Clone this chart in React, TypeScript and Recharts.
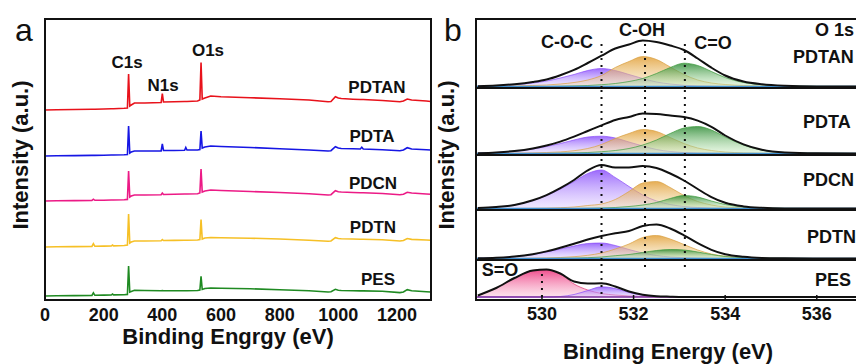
import React from 'react';
import { ComposedChart, Line, Area, XAxis, YAxis, ReferenceLine } from 'recharts';

const FONT = 'Arial, "Liberation Sans", Helvetica, sans-serif';
const INK = '#111';

// (a) survey spectra; a.u. above each trace's own baseline
const surveyEnergy = [0, 40, 100, 160, 165, 170, 200, 226, 230, 234, 270, 281, 285, 289, 294, 305, 340, 396, 400, 404, 440, 476, 480, 484, 520, 528, 532, 536, 545, 565, 600, 700, 800, 900, 965, 975, 990, 1000, 1010, 1050, 1075, 1080, 1085, 1150, 1210, 1222, 1235, 1250, 1300, 1315];
const pdtanSurvey = [0, 0.2, 0.5, 0.8, 0.8, 0.8, 1, 1.2, 1.2, 1.2, 1.7, 2, 36, 4, 5, 7, 7, 7.5, 16.5, 8, 8.2, 8.5, 8.5, 8.5, 9, 10, 47.5, 11, 12, 14, 13.3, 12.3, 11.3, 10, 8.3, 8.5, 13.3, 12, 11.5, 10.8, 10.5, 10.5, 10.5, 9.5, 8.3, 9, 11, 10, 9, 8.5];
const pdtaSurvey = [0, 0.2, 0.4, 0.6, 0.6, 0.6, 0.8, 1, 1, 1, 1.2, 1.5, 30, 3, 4, 5, 5, 5, 12, 5.5, 5.5, 5.8, 8.5, 6, 6, 6.5, 25, 8, 9, 10, 9.5, 8.5, 7.3, 6, 5, 5.3, 9.3, 8, 7.5, 7.2, 7, 8.7, 7, 6.3, 5.3, 6, 8.3, 7, 6.2, 6];
const pdcnSurvey = [0, 0.2, 0.4, 0.6, 1.8, 0.7, 0.8, 1, 1, 1, 1.3, 1.6, 30, 4, 5, 6, 6, 6.3, 8, 6.5, 6.7, 7, 7, 7, 7.3, 8, 32, 9, 10, 11, 10.5, 9.5, 8.5, 7.3, 6, 6.3, 10.3, 9.3, 9, 8.5, 8.2, 8.2, 8.2, 7.5, 6.2, 6.8, 8.7, 8, 7, 6.7];
const pdtnSurvey = [0, 0.2, 0.4, 0.6, 3.3, 0.7, 0.9, 1, 2, 1.1, 1.5, 2, 33, 4, 5, 6, 6, 6.3, 7.5, 6.5, 6.6, 6.8, 6.8, 6.8, 7, 7.5, 27.5, 8, 9, 9.5, 9.3, 8.8, 8, 6.8, 5.7, 6, 9.3, 8.5, 8.2, 8, 7.8, 7.8, 7.8, 7.2, 6, 6.5, 8.5, 7.6, 7, 6.8];
const pesSurvey = [0, 0.2, 0.4, 0.6, 3.2, 0.7, 0.9, 1, 2, 1.1, 1.3, 1.6, 30, 4, 4.6, 5.7, 5.5, 5.2, 5.4, 5.2, 5.2, 5.2, 5.2, 5.2, 5.5, 6, 19.7, 6.5, 7.5, 8, 7.8, 7.2, 6.3, 5.2, 4, 4.3, 6.7, 5.8, 5.5, 5.3, 5.1, 5.1, 5.1, 4.7, 3.4, 4, 6.4, 5.3, 4.3, 4];
const surveyNames = ['PDTAN', 'PDTA', 'PDCN', 'PDTN', 'PES'];
const surveyTicks = [0, 200, 400, 600, 800, 1000, 1200];

// (b) O 1s high resolution fits
const oxEnergy = [528.6, 529.0, 529.4, 529.8, 530.1, 530.4, 530.7, 531.0, 531.3, 531.6, 531.9, 532.2, 532.5, 532.8, 533.1, 533.4, 533.7, 534.0, 534.4, 534.8, 535.3, 536.0, 537.2];
const pdtanCOC = [0.3, 0.8, 1.8, 3.5, 5.5, 8.5, 12, 16, 18, 16, 12, 8, 4.5, 2.5, 1.2, 0.6, 0.3, 0, 0, 0, 0, 0, 0];
const pdtanCOH = [0, 0.2, 0.5, 1, 1.5, 2.5, 4, 6.5, 11, 19, 25, 30, 27, 19.5, 12, 6.5, 3.5, 2, 1, 0.5, 0.2, 0, 0];
const pdtanCO = [0, 0, 0, 0, 0, 0.3, 0.6, 1, 1.8, 3, 5, 8, 13, 19, 23.3, 21, 15, 9, 4, 1.8, 0.6, 0.1, 0];
const pdtanEnv = [0.3, 1, 2.3, 4.5, 7, 11.3, 16.6, 23.5, 30.8, 38, 42, 46, 44.5, 41, 36.5, 28, 18.8, 11, 5, 2.3, 0.8, 0.1, 0];
const pdtaCOC = [0.3, 1, 2.2, 4.5, 7, 10, 13.5, 16.5, 17.3, 15.5, 11.5, 7.5, 4, 2, 1, 0.4, 0.2, 0, 0, 0, 0, 0, 0];
const pdtaCOH = [0, 0.1, 0.3, 0.6, 1, 1.6, 2.8, 5, 9, 15, 20, 24, 22, 16, 10, 5.5, 3, 1.5, 0.6, 0.2, 0, 0, 0];
const pdtaCO = [0, 0, 0, 0, 0, 0.3, 0.6, 1, 1.8, 3, 5, 8.5, 13.5, 20, 25.5, 27, 23.5, 16.5, 8.5, 3.5, 1, 0.2, 0];
const pdtaEnv = [0.3, 1.1, 2.5, 5.1, 8, 11.9, 16.9, 22.5, 28.1, 33.5, 36.5, 40, 39.5, 38, 36.5, 32.9, 26.7, 18, 9.1, 3.7, 1, 0.2, 0];
const pdcnCOC = [0.5, 1.5, 3.5, 8, 13, 19.5, 27, 35, 38.5, 31, 22, 13.5, 7.5, 4, 2, 1, 0.4, 0.2, 0, 0, 0, 0, 0];
const pdcnCOH = [0, 0, 0, 0.2, 0.4, 0.8, 1.5, 3, 4.5, 9, 17, 25.5, 27, 21, 13, 7, 3.5, 1.5, 0.6, 0.2, 0, 0, 0];
const pdcnCO = [0, 0, 0, 0, 0, 0, 0, 0.2, 0.5, 1, 2, 3.5, 6, 10, 13, 11.5, 7.5, 4, 1.5, 0.5, 0.1, 0, 0];
const pdcnEnv = [0.5, 1.5, 3.5, 8.2, 13.4, 20.3, 28.5, 38.2, 43.5, 41, 41, 42.5, 40.5, 35, 28, 19.5, 11.4, 5.7, 2.1, 0.7, 0.1, 0, 0];
const pdtnCOC = [0.2, 0.7, 1.8, 4, 6.5, 9.5, 12.5, 15, 15.5, 13, 9, 5.5, 3, 1.5, 0.7, 0.3, 0.1, 0, 0, 0, 0, 0, 0];
const pdtnCOH = [0, 0, 0.1, 0.3, 0.6, 1, 1.8, 3.2, 5.5, 9.5, 14.5, 21, 23, 19.5, 14, 8.5, 4.5, 2.2, 0.9, 0.3, 0.1, 0, 0];
const pdtnCO = [0, 0, 0, 0, 0, 0.2, 0.4, 0.8, 1.5, 2.8, 4, 6, 8, 9, 8.5, 6.5, 4, 2, 0.8, 0.3, 0.1, 0, 0];
const pdtnEnv = [0.2, 0.7, 1.9, 4.3, 7.1, 10.7, 14.7, 19, 22.5, 25.3, 27.5, 32.5, 34, 30, 23.2, 15.3, 8.6, 4.2, 1.7, 0.6, 0.2, 0, 0];
const pesSO = [1.5, 9, 19, 26.5, 27.5, 23, 13, 7, 3.5, 2, 1, 0.5, 0.2, 0.1, 0, 0, 0, 0, 0, 0, 0, 0, 0];
const pesCOC = [0, 0, 0, 0, 0, 0.5, 2.5, 6.5, 10.2, 8.5, 4.5, 1.8, 0.6, 0.2, 0, 0, 0, 0, 0, 0, 0, 0, 0];
const pesEnv = [1.5, 9, 19, 26.5, 27.5, 23.5, 15.5, 13.5, 13.7, 10.5, 5.5, 2.3, 0.8, 0.3, 0, 0, 0, 0, 0, 0, 0, 0, 0];
const bondPos = [531.3, 532.25, 533.12]; // C-O-C, C-OH, C=O
const soPos = 530.0;
const oxTicks = [530, 532, 534, 536];

const surveyColors = ['#e8121b', '#1616e4', '#ec1a86', '#f6c026', '#1f8a22'];
const surveyBase = [110, 156, 201, 247, 296]; // px row of each trace baseline
const A = { left: 45, top: 19, width: 386, height: 281 };
const B = { left: 476, width: 404 };
const oxDomain = [528.56, 537.38];

const FILL: Record<string, { top: string; bottom: string; line: string }> = {
  coc: { top: '#8447fb', bottom: '#d8c4ff', line: '#8a4cf8' },
  coh: { top: '#e09a2c', bottom: '#f3dcaa', line: '#d9a040' },
  co: { top: '#24852c', bottom: '#c2ebb8', line: '#3a9a3a' },
  so: { top: '#ec2070', bottom: '#f7b2cd', line: '#e0306f' },
};

const surveyData = surveyEnergy.map((e, i) => ({
  e,
  pdtan: pdtanSurvey[i],
  pdta: pdtaSurvey[i],
  pdcn: pdcnSurvey[i],
  pdtn: pdtnSurvey[i],
  pes: pesSurvey[i],
}));
const surveyKeys = ['pdtan', 'pdta', 'pdcn', 'pdtn', 'pes'];

const buildRow = (comps: number[][], env: number[]) =>
  oxEnergy.map((e, i) => {
    const r: Record<string, number> = { e, env: env[i] };
    comps.forEach((c, j) => { r[`c${j}`] = c[i]; });
    return r;
  });

const rows = [
  { top: 19, bottom: 88, kinds: ['coc', 'coh', 'co'], data: buildRow([pdtanCOC, pdtanCOH, pdtanCO], pdtanEnv), lift: 1.5 },
  { top: 88, bottom: 155, kinds: ['coc', 'coh', 'co'], data: buildRow([pdtaCOC, pdtaCOH, pdtaCO], pdtaEnv), lift: 1.5 },
  { top: 155, bottom: 210, kinds: ['coc', 'coh', 'co'], data: buildRow([pdcnCOC, pdcnCOH, pdcnCO], pdcnEnv), lift: 1.5 },
  { top: 210, bottom: 260, kinds: ['coc', 'coh', 'co'], data: buildRow([pdtnCOC, pdtnCOH, pdtnCO], pdtnEnv), lift: 1.5 },
  { top: 260, bottom: 300, kinds: ['so', 'coc'], data: buildRow([pesSO, pesCOC], pesEnv), lift: 3 },
];

const Txt = ({ x, y, size = 17, weight = 700, align = 'middle', rotate = 0, children }: any) => (
  <div
    style={{
      position: 'absolute', left: x, top: y, whiteSpace: 'nowrap', lineHeight: 1,
      fontSize: size, fontWeight: weight, color: INK,
      transform: `translate(${align === 'middle' ? '-50%' : '0'}, -50%)${rotate ? ` rotate(${rotate}deg)` : ''}`,
    }}
  >
    {children}
  </div>
);

const dotted = { stroke: INK, strokeWidth: 2, strokeDasharray: '2 5' };

const OxRow = ({ row, index }: any) => {
  const h = row.bottom - row.top;
  const last = index === rows.length - 1;
  const lo = -row.lift;
  const hi = h - row.lift;
  let marks: { x: number; a: number; b: number }[];
  if (last) {
    marks = [
      { x: soPos, a: 0, b: 27 },
      { x: bondPos[0], a: 3, b: hi },
      { x: bondPos[1], a: 30, b: hi },
      { x: bondPos[2], a: 30, b: hi },
    ];
  } else {
    marks = bondPos.map((x) => ({ x, a: lo, b: index === 0 ? 44 : hi }));
  }
  return (
    <div style={{ position: 'absolute', left: B.left, top: row.top }}>
      <ComposedChart width={B.width} height={h + (last ? 30 : 0)} data={row.data} margin={{ top: 0, right: 0, bottom: 0, left: 0 }}>
        <defs>
          {Object.keys(FILL).map((k) => (
            <linearGradient key={k} id={`ox-${k}`} x1="0" y1="0" x2="0" y2="1">
              <stop offset="0%" stopColor={FILL[k].top} stopOpacity={0.95} />
              <stop offset="100%" stopColor={FILL[k].bottom} stopOpacity={0.45} />
            </linearGradient>
          ))}
        </defs>
        <XAxis
          dataKey="e" type="number" domain={oxDomain} allowDataOverflow hide={!last}
          ticks={oxTicks} interval={0} height={30} axisLine={false}
          tickSize={-5} tickMargin={12} tickLine={{ stroke: INK, strokeWidth: 1.5 }}
          tick={{ fill: INK, fontSize: 18, fontWeight: 700, fontFamily: FONT }}
        />
        <YAxis hide type="number" domain={[lo, hi]} allowDataOverflow />
        {last ? (
          <ReferenceLine segment={[{ x: oxDomain[0], y: 0 }, { x: 533.7, y: 0 }]} stroke="#7b2c9c" strokeWidth={1.5} />
        ) : (
          <ReferenceLine y={0} stroke="#3f8fd0" strokeWidth={1.5} />
        )}
        {row.kinds.map((k: string, j: number) => (
          <Area
            key={k} dataKey={`c${j}`} type="monotone" stroke={FILL[k].line} strokeWidth={1} strokeOpacity={0.7}
            fill={`url(#ox-${k})`} fillOpacity={0.85} dot={false} activeDot={false} isAnimationActive={false}
          />
        ))}
        <Line dataKey="env" type="monotone" stroke={INK} strokeWidth={2} dot={false} activeDot={false} isAnimationActive={false} />
        {marks.map((m, j) => (
          <ReferenceLine key={j} segment={[{ x: m.x, y: m.a }, { x: m.x, y: m.b }]} {...dotted} />
        ))}
      </ComposedChart>
    </div>
  );
};

export default function App() {
  return (
    <div style={{ position: 'fixed', left: 0, top: 0, width: 856, height: 364, overflow: 'hidden', background: '#fff', fontFamily: FONT }}>
      {/* panel a */}
      <div style={{ position: 'absolute', left: 0, top: 0 }}>
        <ComposedChart width={A.left + A.width} height={A.top + A.height + 30} data={surveyData} margin={{ top: A.top, right: 0, bottom: 0, left: A.left }}>
          <XAxis
            dataKey="e" type="number" domain={[0, 1316]} ticks={surveyTicks} interval={0} height={30}
            axisLine={false} tickLine={false}
            tick={{ fill: INK, fontSize: 18, fontWeight: 700, fontFamily: FONT }}
          />
          {surveyKeys.map((k, i) => (
            <YAxis key={k} yAxisId={k} hide type="number" allowDataOverflow
              domain={[surveyBase[i] - A.top - A.height, surveyBase[i] - A.top]} />
          ))}
          {surveyKeys.map((k, i) => (
            <Line key={k} yAxisId={k} dataKey={k} type="linear" stroke={surveyColors[i]} strokeWidth={1.6}
              dot={false} activeDot={false} isAnimationActive={false} />
          ))}
        </ComposedChart>
      </div>
      <div style={{ position: 'absolute', left: 44, top: 18, width: 388, height: 283, boxSizing: 'border-box', border: `2px solid ${INK}` }} />

      <Txt x={24} y={30} size={32} weight={400}>a</Txt>
      <Txt x={21} y={155} size={22} rotate={-90}>Intensity (a.u.)</Txt>
      <Txt x={228} y={337} size={22}>Binding Engrgy (eV)</Txt>
      <Txt x={127} y={62}>C1s</Txt>
      <Txt x={163} y={85}>N1s</Txt>
      <Txt x={208} y={50}>O1s</Txt>
      {surveyNames.map((n, i) => (
        <Txt key={n} x={[377, 372, 373, 373, 378][i]} y={[87, 136, 183, 227, 279][i]}>{n}</Txt>
      ))}

      {/* panel b */}
      {rows.map((r, i) => <OxRow key={i} row={r} index={i} />)}
      <div style={{ position: 'absolute', left: 475, top: 18, width: 500, height: 283, boxSizing: 'border-box', border: `2px solid ${INK}` }} />
      {[88, 155, 210, 260].map((y) => (
        <div key={y} style={{ position: 'absolute', left: 476, top: y - 0.75, width: 420, height: 1.5, background: INK }} />
      ))}

      <Txt x={453} y={30} size={32} weight={400}>b</Txt>
      <Txt x={447} y={155} size={22} rotate={-90}>Intensity (a.u.)</Txt>
      <Txt x={668} y={352} size={22}>Binding Energy (eV)</Txt>
      <Txt x={567} y={42} size={18}>C-O-C</Txt>
      <Txt x={642} y={30} size={18}>C-OH</Txt>
      <Txt x={713} y={43} size={18}>C=O</Txt>
      <Txt x={815} y={30} size={18} align="left">O 1s</Txt>
      <Txt x={793} y={57} size={18} align="left">PDTAN</Txt>
      <Txt x={803} y={122} size={18} align="left">PDTA</Txt>
      <Txt x={803} y={180} size={18} align="left">PDCN</Txt>
      <Txt x={807} y={237} size={18} align="left">PDTN</Txt>
      <Txt x={815} y={280} size={18} align="left">PES</Txt>
      <Txt x={500} y={270} size={18}>S=O</Txt>
    </div>
  );
}
